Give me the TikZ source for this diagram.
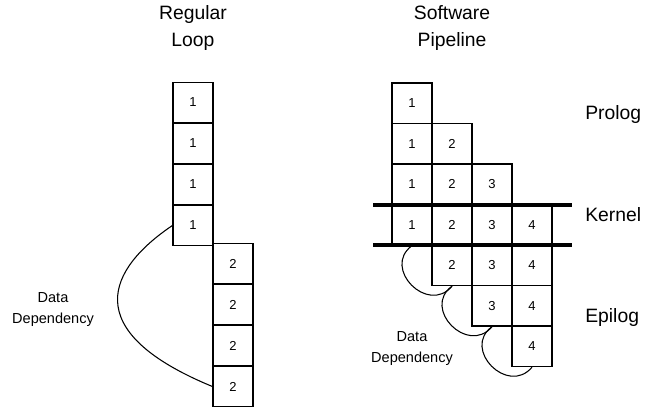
\documentclass[tikz,border=0pt]{standalone}
\usepackage{fontspec}
\setmainfont{Liberation Sans}
\begin{document}
\begin{tikzpicture}[x=0.75pt,y=-0.75pt,
  cell/.style={draw, line width=0.9pt, minimum width=30pt, minimum height=30.5pt, inner sep=0pt,
    font=\fontsize{9.75}{11}\selectfont},
  title/.style={anchor=base, inner sep=0pt, font=\fontsize{14.5}{17}\selectfont},
  phase/.style={anchor=base west, inner sep=0pt, font=\fontsize{14.5}{17}\selectfont},
  dep/.style={anchor=base, inner sep=0pt, font=\fontsize{10.9}{13}\selectfont},
  kline/.style={line width=3pt},
  depline/.style={line width=0.8pt}]
\useasboundingbox (0,0) rectangle (652,410);
% titles
\node[title] (t1) at (193,19.5) {Regular};
\node[title] (t2) at (193,46.5) {Loop};
\node[title] (t3) at (452,19.5) {Software};
\node[title] (t4) at (452,46.5) {Pipeline};
% regular loop
\node[cell] (La) at (193,102.5) {1};
\node[cell] (Lb) at (193,143.5) {1};
\node[cell] (Lc) at (193,184.5) {1};
\node[cell] (Ld) at (193,225.5) {1};
\node[cell] (Ma) at (233,263.5) {2};
\node[cell] (Mb) at (233,304.5) {2};
\node[cell] (Mc) at (233,345.5) {2};
\node[cell] (Md) at (233,386.5) {2};
\draw[depline] (Ld.west) .. controls +(-63.6,42.9) and +(-136,-56) .. (Md.west);
\node[dep] (d1) at (53,302) {Data};
\node[dep] (d2) at (53,323) {Dependency};
% software pipeline
\node[cell] (R00) at (412,103.25) {1};
\node[cell] (R10) at (412,143.75) {1};
\node[cell] (R11) at (452,143.75) {2};
\node[cell] (R20) at (412,184.25) {1};
\node[cell] (R21) at (452,184.25) {2};
\node[cell] (R22) at (492,184.25) {3};
\node[cell] (R30) at (412,224.75) {1};
\node[cell] (R31) at (452,224.75) {2};
\node[cell] (R32) at (492,224.75) {3};
\node[cell] (R33) at (532,224.75) {4};
\node[cell] (R41) at (452,265.25) {2};
\node[cell] (R42) at (492,265.25) {3};
\node[cell] (R43) at (532,265.25) {4};
\node[cell] (R52) at (492,305.75) {3};
\node[cell] (R53) at (532,305.75) {4};
\node[cell] (R63) at (532,346.25) {4};
% kernel lines
\coordinate (k1a) at (373,204.5);
\coordinate (k1b) at (572,204.5);
\coordinate (k2a) at (373,244.5);
\coordinate (k2b) at (572,244.5);
\draw[kline] (k1a) -- (k1b);
\draw[kline] (k2a) -- (k2b);
% dependencies
\draw[depline] (R30.south) .. controls +(-30.5,22.2) and +(-24.2,28.9) .. (R41.south);
\draw[depline] (R41.south) .. controls +(-30.5,22.2) and +(-24.2,28.9) .. (R52.south);
\draw[depline] (R52.south) .. controls +(-30.5,22.2) and +(-24.2,28.9) .. (R63.south);
\node[dep] (d3) at (412,341) {Data};
\node[dep] (d4) at (412,362) {Dependency};
% phase labels
\node[phase] (p1) at (585,119) {Prolog};
\node[phase] (p2) at (585,221) {Kernel};
\node[phase] (p3) at (585,322) {Epilog};
\end{tikzpicture}
\end{document}
